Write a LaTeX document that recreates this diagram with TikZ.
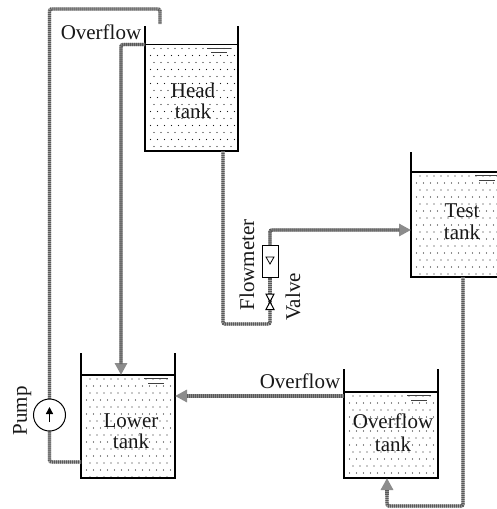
\documentclass[tikz,border=0pt]{standalone}
\usepackage{fontspec}
\setmainfont{Liberation Serif}
\usetikzlibrary{arrows.meta,calc}
\tikzset{
  wall/.style={draw=black,line width=1.4pt},
  water/.style={draw=black,line width=1.1pt,inner sep=0pt,outer sep=0pt,anchor=north west},
  pipe/.style={draw=black!35,line width=3.4pt,rounded corners=2pt,
    postaction={draw=black!65,line width=3.4pt,dash pattern=on 1pt off 1pt}},
  pipearrow/.style={draw=black!45,line width=3.4pt,rounded corners=2pt,
    -{Triangle[length=12pt,width=12pt,fill=black!45]},
    postaction={draw=black!65,line width=3.4pt,dash pattern=on 1pt off 1pt,-,shorten >=11pt}},
  lab/.style={font=\fontsize{21}{23}\selectfont,text=black!90,inner sep=0pt,anchor=base},
  vlab/.style={lab,rotate=90},
  lev/.style={draw=black!75,line width=1pt},
}
\newcommand{\stipple}[4]{%
  \begin{scope}
    \clip (#1+3,#2+2) rectangle (#3-2,#4-2);
    \foreach \r in {0,...,16}{
      \foreach \c in {0,...,15}{
        \fill[black!90] ({#1+2+\c*7+mod(\r,2)*3.5},{#2+4+\r*7}) circle (0.6pt);
      }
    }
  \end{scope}}
\newcommand{\tank}[6]{% name, x1, top, y-water, x2, y-bottom
  \node[water,minimum width={(#5-#2)*1pt},minimum height={(#6-#4)*1pt}] (#1) at (#2,#4) {};
  \stipple{#2}{#4}{#5}{#6}
  \draw[wall] (#1.north west) -- (#2,#3);
  \draw[wall] (#1.north east) -- (#5,#3);
  \draw[lev] (#5-31,#4+3.5) -- (#5-7,#4+3.5);
  \draw[lev] (#5-27,#4+8) -- (#5-11,#4+8);
}
\begin{document}
\begin{tikzpicture}[x=1pt,y=-1pt]
\clip (0,0) rectangle (497,509);
\fill[white] (0,0) rectangle (497,509);
\tank{head}{145}{26}{44.5}{238}{151}
\tank{test}{411}{152}{172}{506}{277}
\tank{lower}{81}{353}{375}{175}{478}
\tank{ovt}{344}{369}{392}{438}{478}
% devices
\node[draw=black,line width=1pt,fill=white,minimum width=16pt,minimum height=32pt,inner sep=0pt] (fm) at (270,261) {};
\coordinate (valve) at (270,302);
\coordinate (pumpc) at (49.5,415);
\coordinate (o1) at (160,24);
% pipes
\draw[pipe] (lower.west |- 0,462) -- (49.5,462) -- (pumpc);
\draw[pipe] (pumpc) -- (49.5,9) -- (160,9) -- (o1);
\draw[pipearrow] (head.west |- 0,44.5) -- (121,44.5) -- (121,375);
\draw[pipe] (223,151) -- (223,324) -- (270,324) -- (valve);
\draw[pipe] (valve) -- (fm.south);
\draw[pipearrow] (fm.north) -- (270,230) -- (test.west |- 0,230);
\draw[pipe] (463,277) -- (463,506) -- (387,506) -- (387,490);
\draw[pipearrow] (387,495) -- (387,478);
\draw[pipearrow] (ovt.west |- 0,396) -- (175,396);
% redraw device bodies over pipes
\node[draw=black,line width=1pt,fill=white,minimum width=16pt,minimum height=32pt,inner sep=0pt] (fm2) at (fm) {};
\draw[black,line width=.8pt] (266,257) -- (274,257) -- (270,264) -- cycle;
\draw[black,line width=1pt,fill=white] (266,294) -- (274,294) -- (266,309.5) -- (274,309.5) -- cycle;
\node[circle,draw=black,line width=1pt,fill=white,minimum size=32pt,inner sep=0pt] (pump) at (pumpc) {};
\draw[black,line width=1.4pt,-{Triangle[length=7pt,width=7pt]}] (49.5,422) -- (49.5,407);
% labels
\node[lab] (l1) at (101,39) {Overflow};
\node[lab] (l2) at (193,97) {Head};
\node[lab] (l3) at (193,118) {tank};
\node[lab] (l4) at (131,427) {Lower};
\node[lab] (l5) at (131,448) {tank};
\node[lab] (l6) at (300,388) {Overflow};
\node[lab] (l7) at (393,428) {Overflow};
\node[lab] (l8) at (393,451) {tank};
\node[lab] (l9) at (462,217) {Test};
\node[lab] (l10) at (462,239) {tank};
\node[vlab] (l11) at (254,265) {Flowmeter};
\node[vlab] (l12) at (300,297) {Valve};
\node[vlab] (l13) at (27,411) {Pump};
\end{tikzpicture}
\end{document}
